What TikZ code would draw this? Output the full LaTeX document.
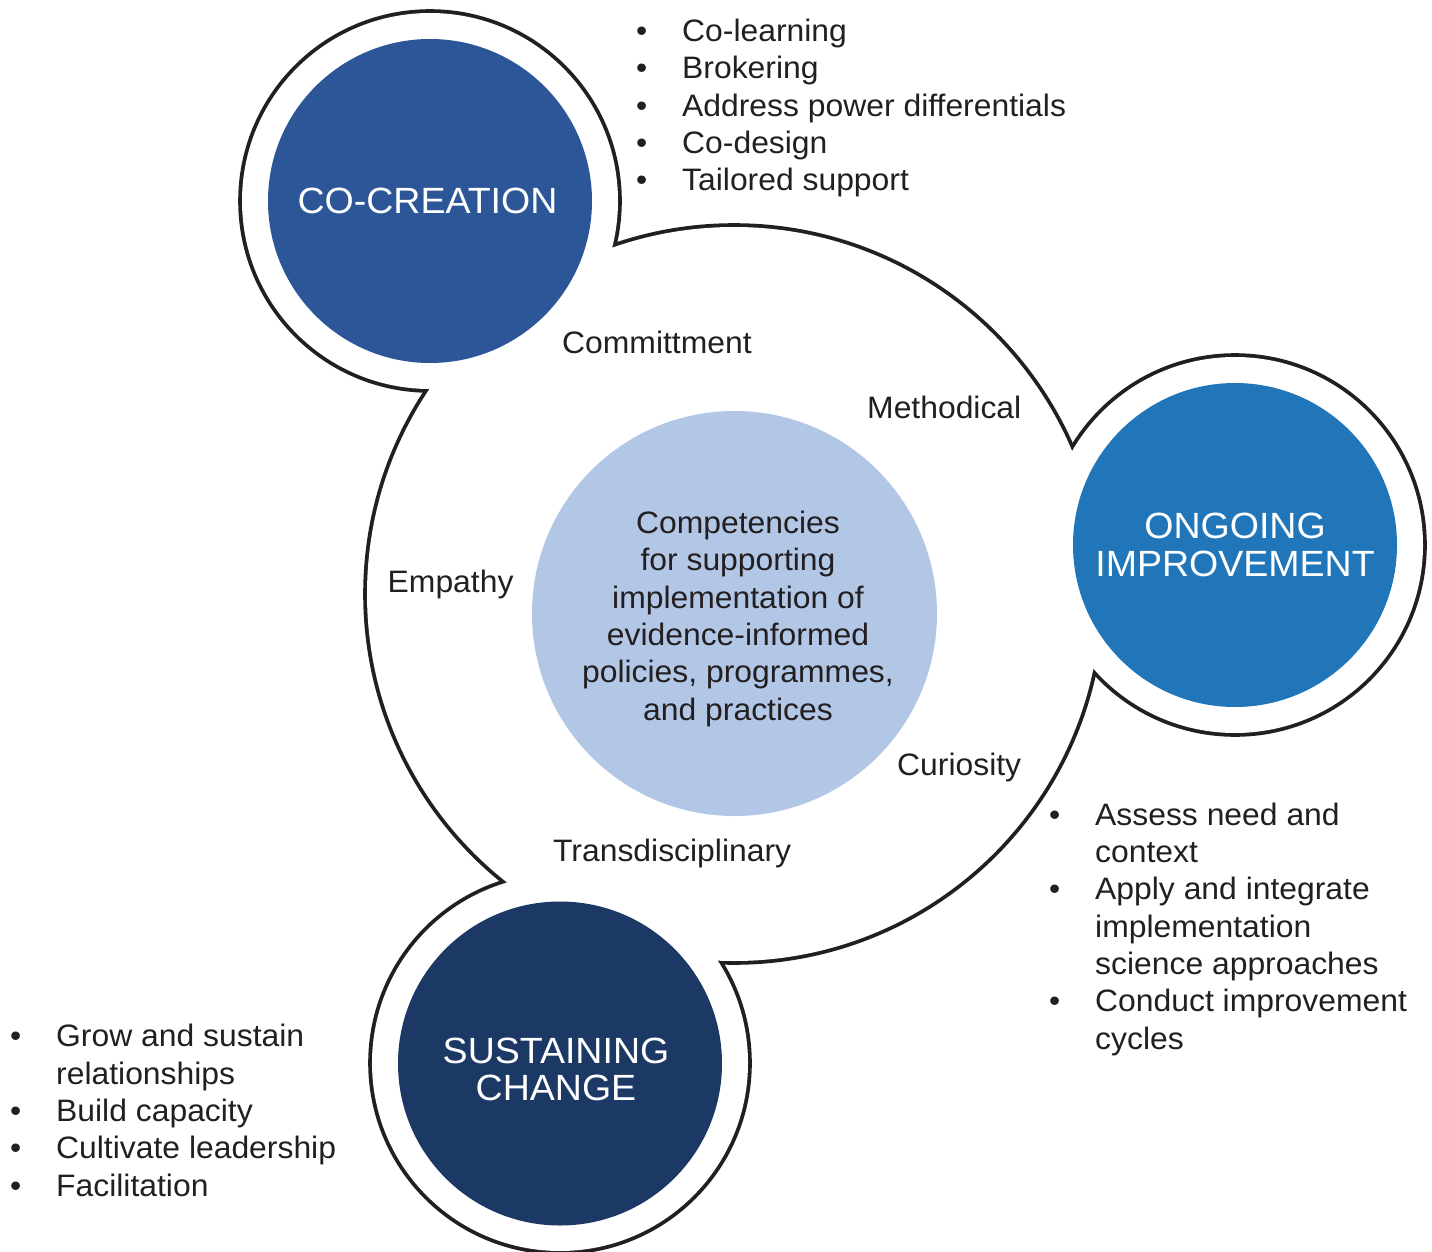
\documentclass[tikz,border=0pt]{standalone}
\usepackage{fontspec}
\setmainfont[FakeStretch=1.028]{Liberation Sans}
\definecolor{cocreation}{HTML}{2C5697}
\definecolor{ongoing}{HTML}{2176B9}
\definecolor{sustain}{HTML}{1C3865}
\definecolor{core}{HTML}{B2C6E6}
\definecolor{ink}{HTML}{231F20}
% bullet list helpers
\newcommand\bulletitem[1]{\makebox[46pt][l]{\textbullet}#1}
\newcommand\contline[1]{\hspace*{46pt}#1}
\newcommand\firststrut{\rule{0pt}{25pt}}

\begin{document}
\begin{tikzpicture}[x=1pt,y=-1pt,
  ring/.style={circle, draw=ink, line width=7.6pt, inner sep=0pt, minimum size=#1},
  hub/.style={circle, fill=#1, inner sep=0pt, minimum size=324pt},
  body/.style={text=ink, font=\fontsize{31}{37.3}\selectfont, inner sep=0pt},
  head/.style={text=white, font=\fontsize{36.5}{37.5}\selectfont, align=center, inner sep=0pt},
  tag/.style={body, anchor=base west},
  list/.style={body, anchor=north west, align=left}]

\useasboundingbox (0,0) rectangle (1432,1252);

% outline of the joined circles: thick strokes first, white union on top
\node[ring=734pt] (rimcore) at (734,594) {};
\node[ring=376pt] (rimA) at (430,201) {};
\node[ring=376pt] (rimB) at (1235,545) {};
\node[ring=376pt] (rimC) at (560,1063) {};
\fill[white] (rimcore.center) circle[radius=367pt]
             (rimA.center) circle[radius=188pt]
             (rimB.center) circle[radius=188pt]
             (rimC.center) circle[radius=188pt];

% coloured discs
\node[hub=cocreation] (cocreation) at (430,201) {};
\node[hub=ongoing] (ongoing) at (1235,545) {};
\node[hub=sustain] (sustaining) at (560,1063.5) {};
\node[circle, fill=core, inner sep=0pt, minimum size=405pt] (coredisc) at (734.5,613.5) {};

% disc titles
\node[head] (cctitle) at (427.5,200.5) {CO-CREATION};
\node[head] (ogtitle) at (1235,545) {ONGOING\\IMPROVEMENT};
\node[head] (sctitle) at (556,1069.5) {SUSTAINING\\CHANGE};

% central statement
\node[body, align=center, anchor=north] (coretext) at (738,508.3)
  {\firststrut Competencies\\for supporting\\implementation of\\evidence-informed\\policies, programmes,\\and practices};

% qualities around the ring
\node[tag] (commit) at (562,353.3) {Committment};
\node[tag] (method) at (867,418.5) {Methodical};
\node[tag] (empathy) at (387.5,592.3) {Empathy};
\node[tag] (curious) at (897,775) {Curiosity};
\node[tag] (transd) at (553,861.7) {Transdisciplinary};

% bullet lists
\node[list] (cclist) at (636,16.5)
  {\firststrut\bulletitem{Co-learning}\\
   \bulletitem{Brokering}\\
   \bulletitem{Address power differentials}\\
   \bulletitem{Co-design}\\
   \bulletitem{Tailored support}};
\node[list] (oglist) at (1049,800)
  {\firststrut\bulletitem{Assess need and}\\
   \contline{context}\\
   \bulletitem{Apply and integrate}\\
   \contline{implementation}\\
   \contline{science approaches}\\
   \bulletitem{Conduct improvement}\\
   \contline{cycles}};
\node[list] (sclist) at (10,1021.7)
  {\firststrut\bulletitem{Grow and sustain}\\
   \contline{relationships}\\
   \bulletitem{Build capacity}\\
   \bulletitem{Cultivate leadership}\\
   \bulletitem{Facilitation}};
\end{tikzpicture}
\end{document}
